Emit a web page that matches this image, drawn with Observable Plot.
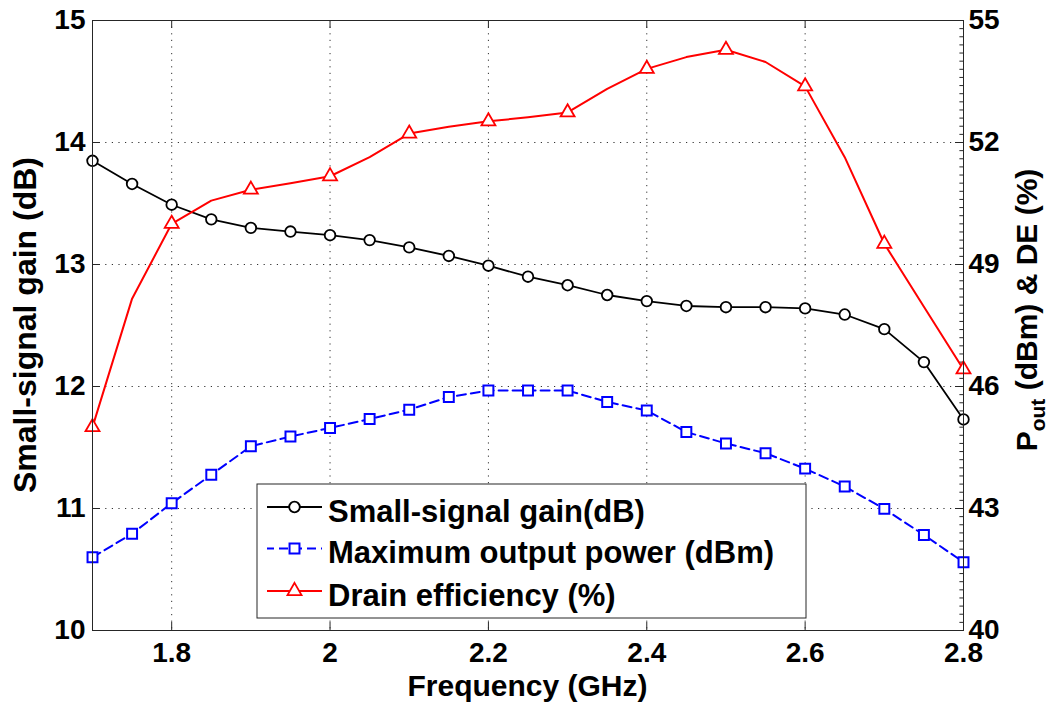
<!DOCTYPE html>
<html>
<head>
<meta charset="utf-8">
<script src="https://cdn.jsdelivr.net/npm/d3@7"></script>
<script src="https://cdn.jsdelivr.net/npm/@observablehq/plot@0.6"></script>
<style>
  html, body { margin: 0; padding: 0; background: #fff; }
  #chart { width: 1059px; height: 709px; }
</style>
</head>
<body>
<div id="chart"></div>
<script>
// ---------- data ----------
const freq = [1.70, 1.75, 1.80, 1.85, 1.90, 1.95, 2.00, 2.05, 2.10, 2.15, 2.20, 2.25,
              2.30, 2.35, 2.40, 2.45, 2.50, 2.55, 2.60, 2.65, 2.70, 2.75, 2.80];
// Small-signal gain (dB) - left axis
const gain = [13.85, 13.66, 13.49, 13.37, 13.30, 13.27, 13.24, 13.20, 13.14, 13.07, 12.99, 12.90,
              12.83, 12.75, 12.70, 12.66, 12.65, 12.65, 12.64, 12.59, 12.47, 12.20, 11.73];
// Maximum output power (dBm) - right axis
const pout = [41.80, 42.38, 43.13, 43.83, 44.53, 44.77, 44.98, 45.20, 45.43, 45.74, 45.90, 45.90,
              45.90, 45.62, 45.41, 44.88, 44.60, 44.36, 43.98, 43.54, 42.99, 42.35, 41.68];
// Drain efficiency (%) - right axis
const de = [45.00, 48.16, 50.00, 50.57, 50.84, 51.00, 51.17, 51.64, 52.22, 52.39, 52.52, 52.62,
            52.74, 53.32, 53.81, 54.10, 54.28, 53.98, 53.38, 51.64, 49.51, 47.96, 46.42];
// drain-efficiency markers are shown every 0.1 GHz
const deMarkerFreq = [1.7, 1.8, 1.9, 2.0, 2.1, 2.2, 2.3, 2.4, 2.5, 2.6, 2.7, 2.8];

const seriesNames = ["Small-signal gain(dB)", "Maximum output power (dBm)", "Drain efficiency (%)"];
const seriesColors = ["#000000", "#0000ff", "#ff0000"];

const xDomain = [1.7, 2.8];
const leftDomain = [10, 15];
const rightDomain = [40, 55];

const xTicks = [1.8, 2.0, 2.2, 2.4, 2.6, 2.8];
const xTickLabels = ["1.8", "2", "2.2", "2.4", "2.6", "2.8"];
const leftTicks = [10, 11, 12, 13, 14, 15];
const leftTickLabels = ["10", "11", "12", "13", "14", "15"];
const rightTicks = [40, 43, 46, 49, 52, 55];
const rightTickLabels = ["40", "43", "46", "49", "52", "55"];
const rightMinorStep = 0.2;

const xLabel = "Frequency (GHz)";
const leftLabel = "Small-signal gain (dB)";
const rightLabelMain = "P";
const rightLabelSub = "out";
const rightLabelRest = " (dBm) & DE (%)";

// ---------- helpers ----------
// right-axis value -> left-axis (plot y scale) value
const toLeft = v => leftDomain[0] + (v - rightDomain[0]) * (leftDomain[1] - leftDomain[0]) / (rightDomain[1] - rightDomain[0]);

const rows = freq.map((f, i) => ({f, gain: gain[i], pout: pout[i], de: de[i]}));
const deMarkers = rows.filter(r => deMarkerFreq.some(m => Math.abs(m - r.f) < 1e-9));
const rightMinor = d3.range(rightDomain[0], rightDomain[1] + 1e-9, rightMinorStep);

const W = 1059, H = 709;
const M = {top: 20, right: 96, bottom: 79, left: 92};
const plotW = W - M.left - M.right, plotH = H - M.top - M.bottom;
// inward tick lengths expressed in data units
const tickPx = 8;
const tkx = tickPx * (xDomain[1] - xDomain[0]) / plotW;
const tky = tickPx * (leftDomain[1] - leftDomain[0]) / plotH;

const FONT = "'Liberation Sans', Arial, Helvetica, sans-serif";
const gridStyle = {stroke: "#333", strokeWidth: 1, strokeDasharray: "1.2,5.4"};
const tickStyle = {stroke: "#262626", strokeWidth: 1};
const txt = {fontSize: 28, fontWeight: "bold", fill: "#000"};

const chart = Plot.plot({
  width: W, height: H,
  marginTop: M.top, marginRight: M.right, marginBottom: M.bottom, marginLeft: M.left,
  style: {fontFamily: FONT, background: "#fff", overflow: "visible"},
  x: {domain: xDomain, axis: null},
  y: {domain: leftDomain, axis: null},
  marks: [
    // grid
    Plot.ruleX(xTicks.filter(t => t < xDomain[1]), {x: d => d, ...gridStyle}),
    Plot.ruleY(leftTicks.filter(t => t > leftDomain[0] && t < leftDomain[1]), {y: d => d, ...gridStyle}),
    // inward ticks
    Plot.ruleX(xTicks, {x: d => d, y1: leftDomain[0], y2: leftDomain[0] + tky, ...tickStyle}),
    Plot.ruleX(xTicks, {x: d => d, y1: leftDomain[1] - tky, y2: leftDomain[1], ...tickStyle}),
    Plot.ruleY(leftTicks, {y: d => d, x1: xDomain[0], x2: xDomain[0] + tkx, ...tickStyle}),
    Plot.ruleY(rightTicks, {y: d => toLeft(d), x1: xDomain[1] - tkx, x2: xDomain[1], ...tickStyle}),
    Plot.ruleY(rightMinor, {y: d => toLeft(d), x1: xDomain[1] - tkx * 0.45, x2: xDomain[1], ...tickStyle}),
    // tick labels
    Plot.text(xTicks, {x: d => d, frameAnchor: "bottom", dy: 12, lineAnchor: "top", text: (d, i) => xTickLabels[i], ...txt}),
    Plot.text(leftTicks, {y: d => d, frameAnchor: "left", dx: -7, textAnchor: "end", text: (d, i) => leftTickLabels[i], ...txt}),
    Plot.text(rightTicks, {y: d => toLeft(d), frameAnchor: "right", dx: 5, textAnchor: "start", text: (d, i) => rightTickLabels[i], ...txt}),
    // series 1: gain
    Plot.line(rows, {x: "f", y: "gain", stroke: seriesColors[0], strokeWidth: 1.8}),
    Plot.dot(rows, {x: "f", y: "gain", symbol: "circle", r: 5.3, stroke: seriesColors[0], strokeWidth: 1.8, fill: "#fff"}),
    // series 2: output power
    Plot.line(rows, {x: "f", y: d => toLeft(d.pout), stroke: seriesColors[1], strokeWidth: 2, strokeDasharray: "9,5"}),
    Plot.dot(rows, {x: "f", y: d => toLeft(d.pout), symbol: "square", r: 5.6, stroke: seriesColors[1], strokeWidth: 2, fill: "#fff"}),
    // series 3: drain efficiency
    Plot.line(rows, {x: "f", y: d => toLeft(d.de), stroke: seriesColors[2], strokeWidth: 2}),
    Plot.dot(deMarkers, {x: "f", y: d => toLeft(d.de), symbol: "triangle", r: 5.2, stroke: seriesColors[2], strokeWidth: 1.8, fill: "#fff"}),
    // frame
    Plot.frame({stroke: "#262626", strokeWidth: 1})
  ]
});

document.getElementById("chart").appendChild(chart);

// ---------- axis titles & legend ----------
const svg = d3.select(chart);
const g = svg.append("g").attr("font-family", FONT).attr("font-weight", "bold").attr("fill", "#000");

g.append("text")
  .attr("x", M.left + plotW / 2).attr("y", 696)
  .attr("text-anchor", "middle").attr("font-size", 30)
  .text(xLabel);

g.append("text")
  .attr("transform", `translate(36,${M.top + plotH / 2}) rotate(-90)`)
  .attr("text-anchor", "middle").attr("font-size", 32)
  .text(leftLabel);

const rl = g.append("text")
  .attr("transform", `translate(1037,310) rotate(-90)`)
  .attr("text-anchor", "middle").attr("font-size", 30);
rl.append("tspan").text(rightLabelMain);
rl.append("tspan").attr("font-size", 21).attr("dy", 8).text(rightLabelSub);
rl.append("tspan").attr("dy", -8).text(rightLabelRest);

// legend
const lg = svg.append("g").attr("font-family", FONT).attr("text-anchor", "start");
const box = {x: 257, y: 484, w: 549, h: 134};
lg.append("rect").attr("x", box.x).attr("y", box.y).attr("width", box.w).attr("height", box.h)
  .attr("fill", "#fff").attr("stroke", "#262626").attr("stroke-width", 1);
const rowY = [507, 548.5, 591];
const sx1 = 267, sx2 = 322, smx = 294.5, tx = 328;
seriesNames.forEach((name, i) => {
  const y = rowY[i];
  const ln = lg.append("line").attr("x1", sx1).attr("x2", sx2).attr("y1", y).attr("y2", y)
    .attr("stroke", seriesColors[i]).attr("stroke-width", i === 0 ? 1.8 : 2);
  if (i === 1) ln.attr("stroke-dasharray", "9,5").attr("stroke-dashoffset", 2);
  let sym;
  if (i === 0) sym = d3.symbol(d3.symbolCircle, Math.PI * 5.3 * 5.3);
  else if (i === 1) sym = d3.symbol(d3.symbolSquare, Math.PI * 5.6 * 5.6);
  else sym = d3.symbol(d3.symbolTriangle, Math.PI * 5.2 * 5.2);
  lg.append("path").attr("d", sym()).attr("transform", `translate(${smx},${y})`)
    .attr("fill", "#fff").attr("stroke", seriesColors[i]).attr("stroke-width", i === 1 ? 2 : 1.8);
  lg.append("text").attr("x", tx).attr("y", y + 14.5).attr("font-size", 31).attr("font-weight", "bold")
    .attr("text-anchor", "start").attr("fill", "#000").text(name);
});
</script>
</body>
</html>
